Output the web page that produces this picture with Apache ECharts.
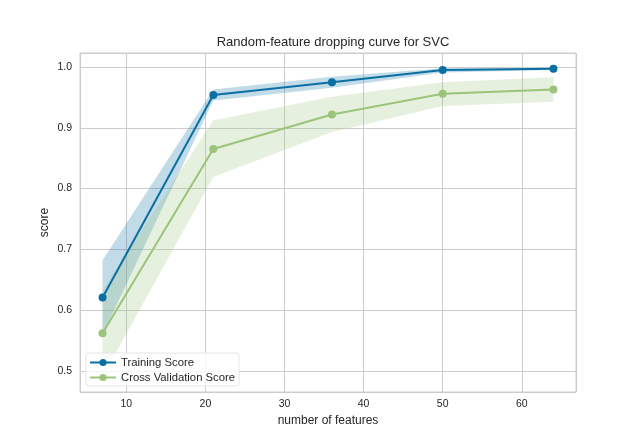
<!DOCTYPE html>
<html>
<head>
<meta charset="utf-8">
<script src="https://cdn.jsdelivr.net/npm/echarts@6/dist/echarts.min.js"></script>
<style>
  html, body { margin: 0; padding: 0; background: #fff; }
  #main { width: 640px; height: 440px; }
</style>
</head>
<body>
<div id="main"></div>
<script>
// number of features kept
var features = [7, 21, 36, 50, 64];
// mean scores
var trainScore = [0.621, 0.954, 0.975, 0.995, 0.997];
var cvScore = [0.562, 0.865, 0.922, 0.956, 0.963];
// band edges (mean +/- std)
var trainLower = [0.560, 0.945, 0.966, 0.991, 0.995];
var trainUpper = [0.682, 0.963, 0.984, 0.998, 0.998];
var cvLower = [0.491, 0.819, 0.893, 0.936, 0.943];
var cvUpper = [0.633, 0.912, 0.951, 0.975, 0.983];

var blue = '#0a6fa3';
var green = '#9bc47a';
var font = 'Liberation Sans';

function pairs(ys) {
  return features.map(function (x, i) { return [x, ys[i]]; });
}

// band drawn as one polygon: upper edge left->right, lower edge right->left
function band(lo, up, color) {
  return {
    type: 'custom',
    silent: true,
    z: 1,
    data: [[features[0], lo[0]]],
    renderItem: function (params, api) {
      var pts = [];
      for (var i = 0; i < features.length; i++) pts.push(api.coord([features[i], up[i]]));
      for (var j = features.length - 1; j >= 0; j--) pts.push(api.coord([features[j], lo[j]]));
      return {
        type: 'polygon',
        shape: { points: pts },
        style: { fill: color, opacity: 0.25 }
      };
    }
  };
}

var chart = echarts.init(document.getElementById('main'));

var option = {
  animation: false,
  backgroundColor: '#fff',
  textStyle: { fontFamily: font },
  title: {
    text: 'Random-feature dropping curve for SVC',
    left: 328,
    textAlign: 'center',
    top: 31,
    textStyle: { fontFamily: font, fontSize: 13, fontWeight: 'normal', color: '#262626' }
  },
  grid: {
    left: 80, right: 64, top: 53, bottom: 48,
    show: true, borderColor: '#cccccc', borderWidth: 1, backgroundColor: '#fff'
  },
  legend: {
    orient: 'vertical',
    left: 86,
    bottom: 54,
    data: ['Training Score', 'Cross Validation Score'],
    itemWidth: 26,
    itemHeight: 9,
    itemGap: 4,
    padding: [4, 4, 3, 3],
    backgroundColor: 'rgba(255,255,255,0.8)',
    borderColor: '#e6e6e6',
    borderWidth: 1,
    borderRadius: 3,
    textStyle: { fontFamily: font, fontSize: 11.3, color: '#262626' }
  },
  xAxis: {
    type: 'value',
    min: 4.15,
    max: 66.85,
    name: 'number of features',
    nameLocation: 'middle',
    nameGap: 20,
    nameTextStyle: { fontFamily: font, fontSize: 12, color: '#262626' },
    axisLine: { show: false },
    axisTick: { show: false },
    axisLabel: { fontFamily: font, fontSize: 10.5, color: '#262626', margin: 7, showMinLabel: false, showMaxLabel: false },
    splitLine: { lineStyle: { color: '#cccccc', width: 1 } }
  },
  yAxis: {
    type: 'value',
    min: 0.4655,
    max: 1.023,
    name: 'score',
    nameLocation: 'middle',
    nameGap: 29,
    nameMoveOverlap: false,
    nameTextStyle: { fontFamily: font, fontSize: 12, color: '#262626' },
    axisLine: { show: false },
    axisTick: { show: false },
    axisLabel: {
      fontFamily: font, fontSize: 10.5, color: '#262626', margin: 8,
      showMinLabel: false, showMaxLabel: false,
      formatter: function (v) { return v.toFixed(1); }
    },
    splitLine: { lineStyle: { color: '#cccccc', width: 1 } }
  },
  series: [
    band(trainLower, trainUpper, blue),
    band(cvLower, cvUpper, green),
    {
      name: 'Training Score', type: 'line', data: pairs(trainScore),
      symbol: 'circle', symbolSize: 8, z: 3,
      itemStyle: { color: blue },
      lineStyle: { color: blue, width: 2 }
    },
    {
      name: 'Cross Validation Score', type: 'line', data: pairs(cvScore),
      symbol: 'circle', symbolSize: 8, z: 3,
      itemStyle: { color: green },
      lineStyle: { color: green, width: 2 }
    }
  ]
};

chart.setOption(option);
</script>
</body>
</html>
